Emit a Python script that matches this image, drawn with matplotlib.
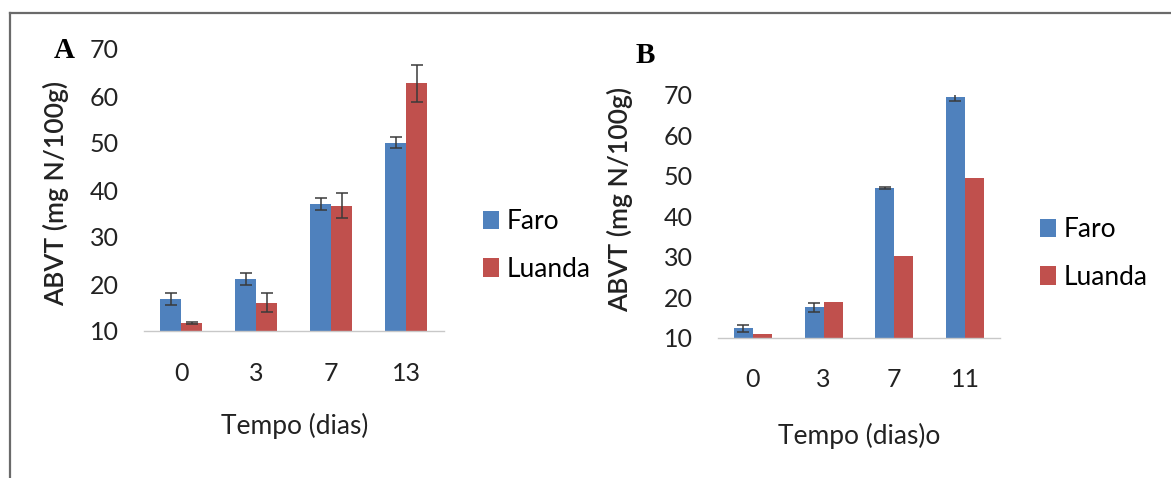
import numpy as np
import matplotlib.pyplot as plt
from matplotlib.lines import Line2D

# ABVT (mg N/100g) ao longo do tempo de armazenamento
dias_a = ["0", "3", "7", "13"]
faro_a = [16.8, 21.1, 37.0, 50.1]
faro_a_err = [1.2, 1.3, 1.3, 1.2]
luanda_a = [11.7, 16.0, 36.7, 62.7]
luanda_a_err = [0.3, 2.0, 2.6, 3.9]

dias_b = ["0", "3", "7", "11"]
faro_b = [12.3, 17.5, 46.9, 69.5]
faro_b_err = [0.8, 1.1, 0.3, 1.1]
luanda_b = [10.8, 18.7, 30.2, 49.4]

AZUL = "#4F81BD"
VERMELHO = "#C0504D"
FONTE = ["Lato", "DejaVu Sans"]

W, H = 1171, 478
fig = plt.figure(figsize=(W / 100, H / 100), dpi=100)


def px_rect(x0, x1, y_top, y_bot):
    # converte pixels (origem no topo) para coordenadas da figura
    return [x0 / W, 1 - y_bot / H, (x1 - x0) / W, (y_bot - y_top) / H]


def painel(rect, dias, faro, faro_err, luanda, luanda_err, largura, xlabel,
           ylab_pos, xlab_pos, leg_pos):
    ax = fig.add_axes(rect)
    x = np.arange(len(dias))
    ax.bar(x - largura / 2, faro, largura, color=AZUL, label="Faro")
    ax.bar(x + largura / 2, luanda, largura, color=VERMELHO, label="Luanda")
    ax.errorbar(x - largura / 2, faro, yerr=faro_err, fmt="none",
                ecolor="#3a3a3a", elinewidth=1.1, capsize=4.3, capthick=1.1)
    if luanda_err is not None:
        ax.errorbar(x + largura / 2, luanda, yerr=luanda_err, fmt="none",
                    ecolor="#3a3a3a", elinewidth=1.1, capsize=4.3, capthick=1.1)

    ax.set_xlim(-0.5, len(dias) - 0.5)
    ax.set_ylim(10, 70)
    ax.set_yticks(range(10, 71, 10))
    ax.set_xticks(x)
    ax.set_xticklabels(dias)
    for s in ["top", "right", "left"]:
        ax.spines[s].set_visible(False)
    ax.spines["bottom"].set_color("#C8C8C8")
    ax.spines["bottom"].set_linewidth(1.0)
    ax.tick_params(axis="both", length=0, labelsize=18, labelcolor="#222222")
    ax.tick_params(axis="x", pad=22)
    ax.tick_params(axis="y", pad=18)
    for t in ax.get_xticklabels() + ax.get_yticklabels():
        t.set_family(FONTE)

    ax.set_ylabel("ABVT (mg N/100g)", fontsize=19, family=FONTE,
                  weight="semibold", color="#222222")
    ax.yaxis.set_label_coords(*ylab_pos)
    ax.set_xlabel(xlabel, fontsize=19, family=FONTE, color="#222222")
    ax.xaxis.set_label_coords(*xlab_pos)

    ax.legend(loc="center left", bbox_to_anchor=leg_pos,
              bbox_transform=fig.transFigure, frameon=False,
              prop={"family": FONTE, "size": 19}, handlelength=0.6,
              handleheight=0.7, handletextpad=0.3, labelspacing=0.85,
              borderpad=0, borderaxespad=0)
    return ax


painel(px_rect(143.5, 444, 49, 331), dias_a, faro_a, faro_a_err,
       luanda_a, luanda_a_err, 0.28, "Tempo (dias)",
       (-0.248, 0.489), (0.503, -0.29), (483 / W, 1 - 245.5 / H))

painel(px_rect(717.6, 1000.3, 94.7, 337.7), dias_b, faro_b, faro_b_err,
       luanda_b, None, 0.27, "Tempo (dias)o",
       (-0.299, 0.567), (0.5, -0.351), (1040 / W, 1 - 253.7 / H))

# letras dos painéis
fig.text(54 / W, 1 - 58 / H, "A", family="Liberation Serif", weight="bold",
         fontsize=21, ha="left", va="baseline")
fig.text(636 / W, 1 - 63 / H, "B", family="Liberation Serif", weight="bold",
         fontsize=21, ha="left", va="baseline")

# moldura (topo e lado esquerdo)
fig.add_artist(Line2D([10 / W, 1], [1 - 13 / H, 1 - 13 / H],
                      transform=fig.transFigure, color="#6a6a6a", lw=1.6))
fig.add_artist(Line2D([10 / W, 10 / W], [1 - 13 / H, 0],
                      transform=fig.transFigure, color="#6a6a6a", lw=1.6))

fig.savefig("out.png", dpi=100)
